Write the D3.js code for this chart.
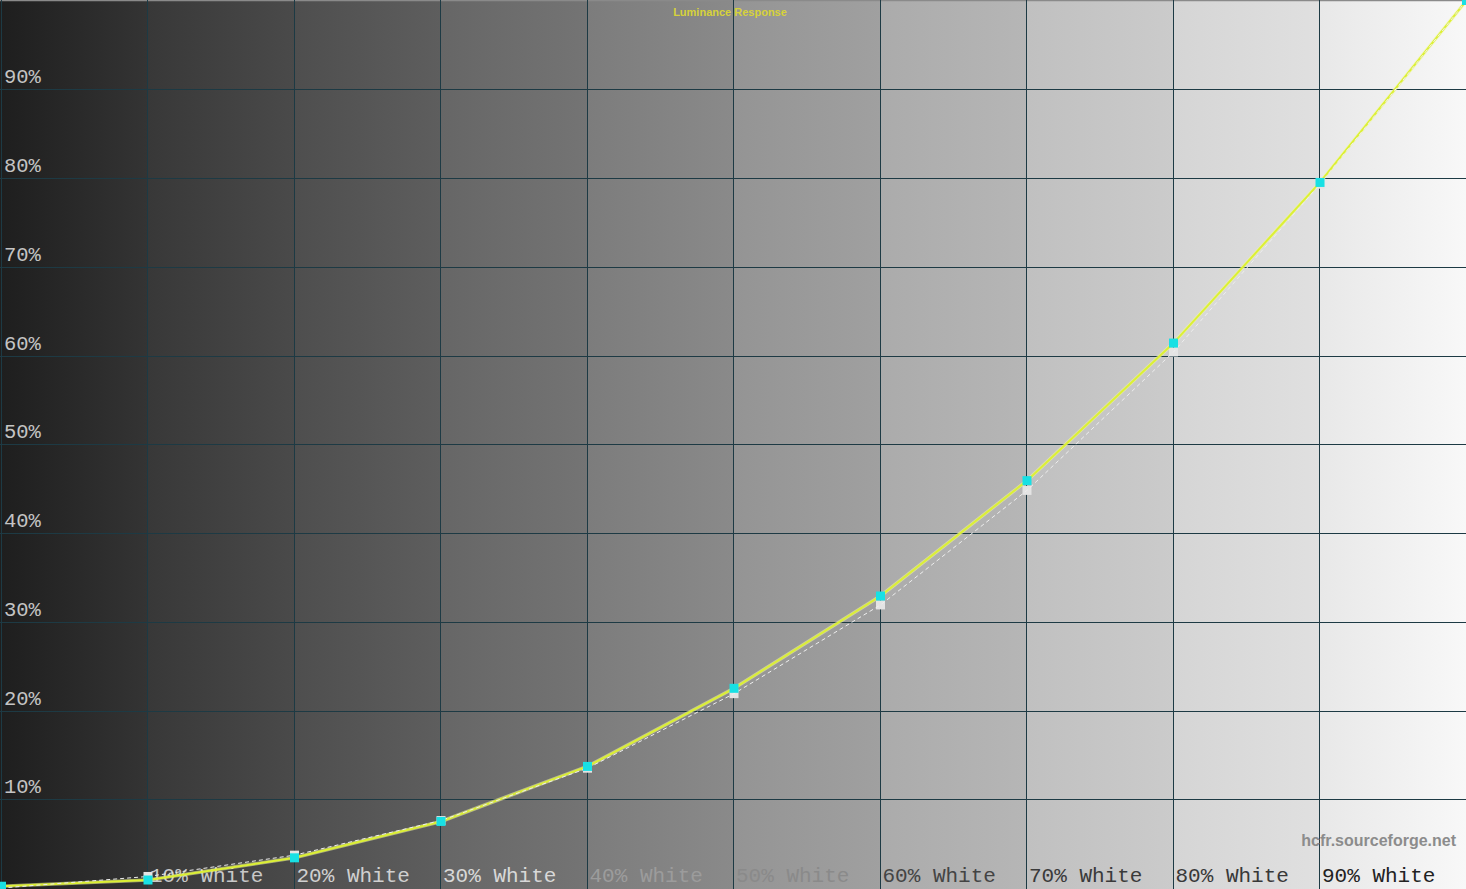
<!DOCTYPE html>
<html><head><meta charset="utf-8">
<script src="https://cdn.jsdelivr.net/npm/d3@7"></script>
<style>html,body{margin:0;padding:0;background:#fff;overflow:hidden}</style>
</head><body>
<svg id="c" width="1466" height="889"></svg>
<script>
// ---- data ----
const levels = [0,10,20,30,40,50,60,70,80,90,100];
const measured = [0.2,0.9,3.4,7.5,13.7,22.5,32.9,45.9,61.4,79.5,100];
const reference = [0,1.3,3.7,7.6,13.5,21.9,31.9,44.8,60.4,79.3,100];
const xTickLabels = ["10% White","20% White","30% White","40% White","50% White","60% White","70% White","80% White","90% White"];
const xTickValues = [10,20,30,40,50,60,70,80,90];
const yTickValues = [10,20,30,40,50,60,70,80,90];
const yTickLabels = ["10%","20%","30%","40%","50%","60%","70%","80%","90%"];
const title = "Luminance Response";
const credit = "hcfr.sourceforge.net";

// ---- style ----
const bandStart = [0x1e,0x38,0x4e,0x66,0x7c,0x94,0xab,0xc0,0xd5,0xe8];
const bandEnd   = [0x34,0x4a,0x5e,0x74,0x8a,0xa0,0xb6,0xcb,0xe0,0xf8];
const xLabelColors = ["#c8c8c8","#d0d0d0","#d8d8d8","#9c9c9c","#8a8a8a","#444","#3a3a3a","#383838","#222"];

const W = 1466, H = 889;
const svg = d3.select("#c");
const x = d3.scaleLinear().domain([0,100]).range([1.5, 1466.5]);
const y = d3.scaleLinear().domain([0,100]).range([888, 0.5]);
const hex = v => { const s = v.toString(16).padStart(2,"0"); return "#"+s+s+s; };

const defs = svg.append("defs");
bandStart.forEach((s,i)=>{
  const g = defs.append("linearGradient").attr("id","b"+i).attr("x1","0").attr("x2","1").attr("y1","0").attr("y2","0");
  g.append("stop").attr("offset","0").attr("stop-color",hex(s));
  g.append("stop").attr("offset","1").attr("stop-color",hex(bandEnd[i]));
});
svg.selectAll("rect.band").data(bandStart).enter().append("rect")
  .attr("class","band")
  .attr("x",(d,i)=>i===0?0:x(i*10))
  .attr("y",0)
  .attr("width",(d,i)=>(i===9?W:x((i+1)*10)) - (i===0?0:x(i*10)))
  .attr("height",H)
  .attr("fill",(d,i)=>"url(#b"+i+")");

// top border
svg.append("line").attr("x1",0).attr("x2",W).attr("y1",0.5).attr("y2",0.5).attr("stroke","#8a8a8a").attr("stroke-width",1.5);

// grid
const gridColor = "#1d3a44";
svg.selectAll("line.vg").data([0].concat(xTickValues)).enter().append("line")
  .attr("x1",d=>Math.round(x(d))-0.5).attr("x2",d=>Math.round(x(d))-0.5)
  .attr("y1",0).attr("y2",H).attr("stroke",gridColor).attr("stroke-width",1);
svg.selectAll("line.hg").data(yTickValues).enter().append("line")
  .attr("y1",d=>Math.round(y(d))+0.5).attr("y2",d=>Math.round(y(d))+0.5)
  .attr("x1",0).attr("x2",W).attr("stroke",gridColor).attr("stroke-width",1);

// y labels
svg.selectAll("text.yl").data(yTickValues).enter().append("text")
  .attr("x",4).attr("y",d=>y(d)-6)
  .attr("font-family","'Liberation Mono','Courier New',monospace")
  .attr("font-size",20.5).attr("fill","#c4c4c4")
  .text((d,i)=>yTickLabels[i]);

// x labels
svg.selectAll("text.xl").data(xTickValues).enter().append("text")
  .attr("x",d=>x(d)+2).attr("y",882)
  .attr("font-family","'Liberation Mono','Courier New',monospace")
  .attr("font-size",21).attr("fill",(d,i)=>xLabelColors[i])
  .text((d,i)=>xTickLabels[i]);

// title
svg.append("text").attr("x",730).attr("y",16).attr("text-anchor","middle")
  .attr("font-family","Arial,'Liberation Sans',sans-serif").attr("font-weight","bold")
  .attr("font-size",11).attr("fill","#d6d23a").text(title);

// credit
svg.append("text").attr("x",1456).attr("y",846).attr("text-anchor","end")
  .attr("font-family","Arial,'Liberation Sans',sans-serif").attr("font-weight","bold")
  .attr("font-size",16).attr("fill","#8c8c8c").text(credit);

const line = d3.line().x(d=>x(d[0])).y(d=>y(d[1]));
const refPts = levels.map((l,i)=>[l,reference[i]]);
const mesPts = levels.map((l,i)=>[l,measured[i]]);

// reference markers
svg.selectAll("rect.rm").data(refPts).enter().append("rect")
  .attr("x",d=>x(d[0])-4.5).attr("y",d=>y(d[1])-4.5).attr("width",9).attr("height",9)
  .attr("fill","#e4e4e4");

// measured line
svg.append("path").attr("d",line(mesPts)).attr("fill","none")
  .attr("stroke","#f4fa9c").attr("stroke-width",3.6).attr("stroke-opacity",0.55);
svg.append("path").attr("d",line(mesPts)).attr("fill","none")
  .attr("stroke","#dcf034").attr("stroke-width",2);

// reference dashed line
svg.append("path").attr("d",line(refPts)).attr("fill","none")
  .attr("stroke","#eeeeee").attr("stroke-width",1).attr("stroke-dasharray","4,3");

// measured markers
svg.selectAll("rect.mm").data(mesPts).enter().append("rect")
  .attr("x",d=>x(d[0])-4.5).attr("y",d=>y(d[1])-4.5).attr("width",9).attr("height",9)
  .attr("fill","#18e0e4");
</script>
</body></html>
